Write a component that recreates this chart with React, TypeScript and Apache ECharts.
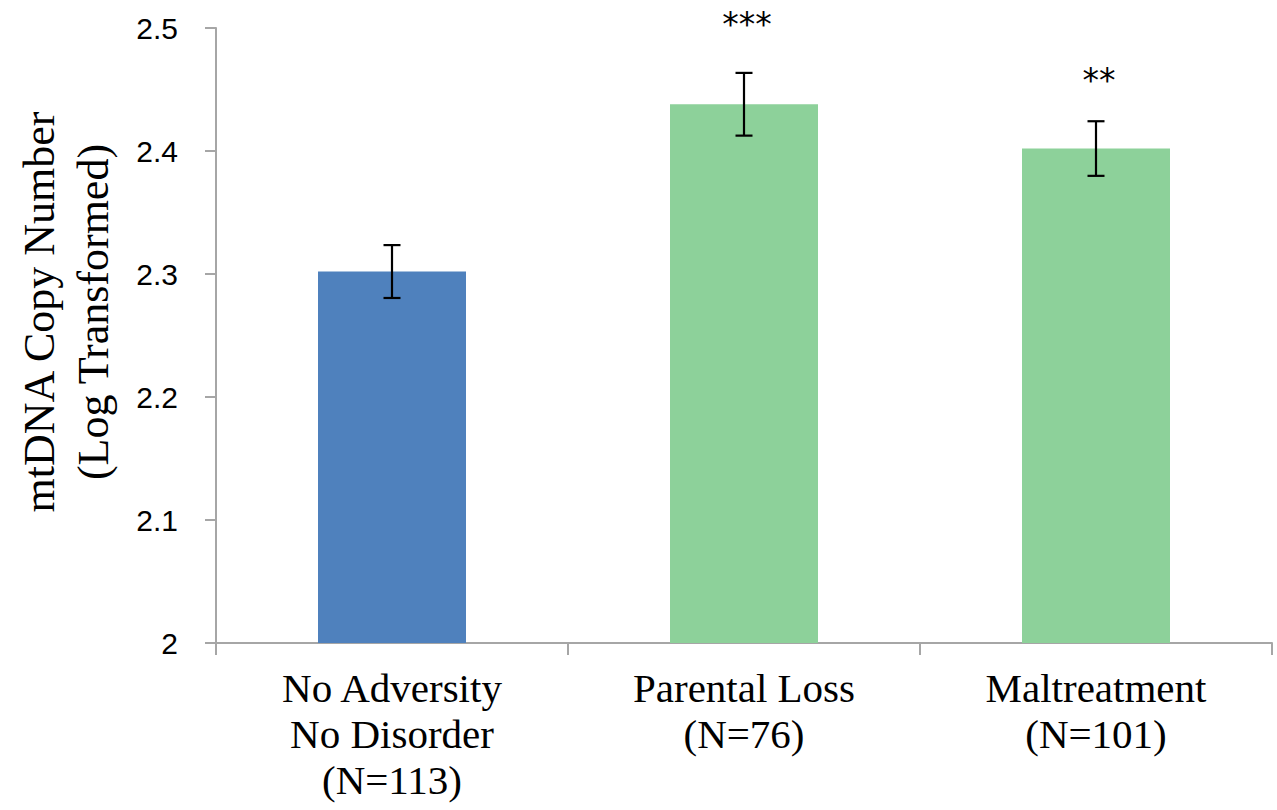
import React, { useEffect, useRef } from "react";
import * as echarts from "echarts";

const categories = ["No Adversity\nNo Disorder\n(N=113)", "Parental Loss\n(N=76)", "Maltreatment\n(N=101)"];
const means = [2.302, 2.438, 2.402];
const errors = [0.0215, 0.0255, 0.0222];
const sigLabels = ["", "***", "**"];
const sigLevels = [0, 2.508, 2.462];
const barColors = ["#4F81BD", "#8DD19A", "#8DD19A"];
const yTicks = [2, 2.1, 2.2, 2.3, 2.4, 2.5];
const yTitle = "mtDNA Copy Number\n(Log Transformed)";

export default function App() {
  const ref = useRef<HTMLDivElement>(null);
  useEffect(() => {
    if (!ref.current) return;
    const chart = echarts.init(ref.current, null, { renderer: "svg" });
    const axisColor = "#A6A6A6";
    chart.setOption({
      animation: false,
      backgroundColor: "#ffffff",
      grid: { left: 216, right: 5, top: 28, bottom: 167, containLabel: false, outerBoundsMode: "none" },
      graphic: [
        {
          type: "text",
          x: 66,
          y: 312,
          rotation: Math.PI / 2,
          style: {
            text: yTitle,
            align: "center",
            verticalAlign: "middle",
            fontFamily: "Liberation Serif",
            fontSize: 44,
            lineHeight: 54,
            fill: "#000",
          },
        },
      ],
      xAxis: {
        type: "category",
        data: categories,
        axisLine: { show: true, lineStyle: { color: axisColor, width: 2 } },
        axisTick: { show: true, alignWithLabel: false, length: 12, lineStyle: { color: axisColor, width: 2 } },
        axisLabel: {
          margin: 22,
          fontFamily: "Liberation Serif",
          fontSize: 41,
          lineHeight: 46,
          color: "#000",
          interval: 0,
        },
      },
      yAxis: {
        type: "value",
        min: yTicks[0],
        max: yTicks[yTicks.length - 1],
        interval: 0.1,
        splitLine: { show: false },
        axisLine: { show: true, lineStyle: { color: axisColor, width: 2 } },
        axisTick: { show: true, inside: false, length: 11, lineStyle: { color: axisColor, width: 2 } },
        axisLabel: {
          margin: 38,
          fontFamily: "Liberation Sans",
          fontSize: 30,
          color: "#000",
          formatter: (v: number) => String(Math.round(v * 10) / 10),
        },
      },
      series: [
        {
          type: "bar",
          data: means.map((m, i) => ({ value: m, itemStyle: { color: barColors[i] } })),
          barWidth: 148,
        },
        {
          type: "custom",
          data: means.map((m, i) => [i, m, errors[i], sigLevels[i]]),
          z: 10,
          renderItem: (params: any, api: any) => {
            const idx = api.value(0);
            const m = api.value(1);
            const e = api.value(2);
            const top = api.coord([idx, m + e]);
            const bot = api.coord([idx, m - e]);
            const half = 8.5;
            const style = { stroke: "#000", lineWidth: 2.2 };
            const children: any[] = [
              { type: "line", shape: { x1: top[0], y1: top[1], x2: bot[0], y2: bot[1] }, style },
              { type: "line", shape: { x1: top[0] - half, y1: top[1], x2: top[0] + half, y2: top[1] }, style },
              { type: "line", shape: { x1: bot[0] - half, y1: bot[1], x2: bot[0] + half, y2: bot[1] }, style },
            ];
            const s = sigLabels[params.dataIndex];
            if (s) {
              const sp = api.coord([idx, api.value(3)]);
              children.push({
                type: "text",
                style: {
                  text: s,
                  x: sp[0] + 3,
                  y: sp[1] + 6,
                  align: "center",
                  verticalAlign: "middle",
                  fontFamily: "DejaVu Sans",
                  fontSize: 33,
                  fill: "#000",
                  letterSpacing: 6,
                },
              });
            }
            return { type: "group", children };
          },
        },
      ],
    });
    return () => chart.dispose();
  }, []);
  return (
    <div
      ref={ref}
      style={{ position: "fixed", left: 0, top: 0, width: 1277, height: 810, background: "#fff" }}
    />
  );
}
